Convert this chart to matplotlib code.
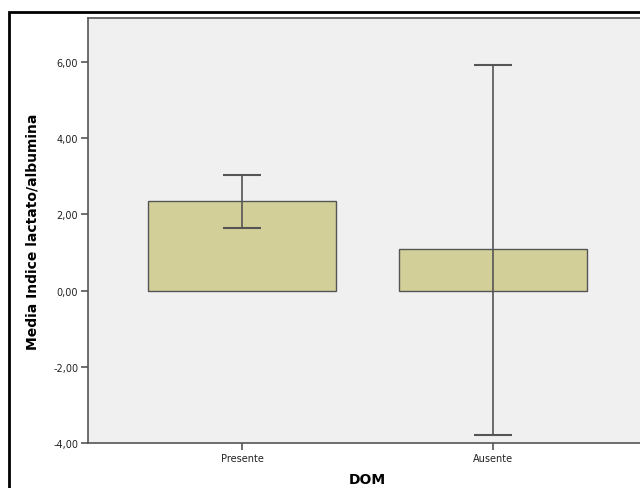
import matplotlib.pyplot as plt
from matplotlib.patches import Rectangle


# Datos
categorias = ["Presente", "Ausente"]
medias = [2.35, 1.08]
ic_sup = [3.04, 5.93]
ic_inf = [1.63, -3.78]
yticks = [-4, -2, 0, 2, 4, 6]


def fmt_coma(v):
    return "{:.2f}".format(v).replace(".", ",")


def main():

    fig = plt.figure(figsize=(6.4, 4.89), dpi=100)
    fig.patch.set_facecolor("white")

    # marco exterior (se sale de la imagen por la derecha y abajo)
    fig.patches.append(Rectangle((9 / 640, -0.1), 1.2, 1 - 13 / 489 + 0.1,
                                 transform=fig.transFigure, fill=False,
                                 edgecolor="black", linewidth=2))

    ax = fig.add_axes([88 / 640, 45 / 489, 559 / 640, 425 / 489])
    ax.set_facecolor("#f0f0f0")

    x = list(range(len(categorias)))
    err_low = [m - lo for m, lo in zip(medias, ic_inf)]
    err_high = [hi - m for m, hi in zip(medias, ic_sup)]

    ax.bar(x, medias, width=0.75, color="#d3cf98", edgecolor="#555555",
           linewidth=1.0, zorder=2)
    ax.errorbar(x, medias, yerr=[err_low, err_high], fmt="none",
                ecolor="#555555", elinewidth=1.2, capsize=13.7,
                capthick=1.5, zorder=3)

    ax.set_xlim(-0.614, 1.614)
    ax.set_ylim(-4, 7.15)
    ax.set_yticks(yticks)
    ax.set_yticklabels([fmt_coma(v) for v in yticks], fontsize=7,
                       color="#222222")
    ax.set_xticks(x)
    ax.set_xticklabels(categorias, fontsize=7, color="#222222")
    ax.tick_params(axis="both", direction="out", length=5, width=1.2,
                   color="#555555", pad=2)

    for s in ["left", "bottom", "top", "right"]:
        ax.spines[s].set_color("#555555")
        ax.spines[s].set_linewidth(1.2)

    ax.set_ylabel("Media Indice lactato/albumina", fontsize=10,
                  fontweight="bold", labelpad=10)
    ax.set_xlabel("DOM", fontsize=10, fontweight="bold", labelpad=7)

    plt.savefig("out.png", dpi=100)


if __name__ == "__main__":
    main()
